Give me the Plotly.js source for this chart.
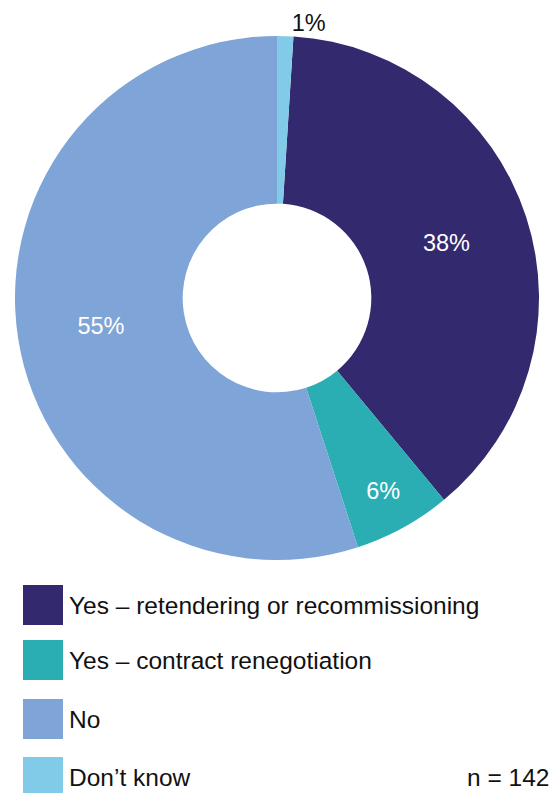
<!DOCTYPE html>
<html>
<head>
<meta charset="utf-8">
<script src="https://cdn.plot.ly/plotly-3.0.1.min.js"></script>
<style>html,body{margin:0;padding:0;background:#fff;}#chart{width:560px;height:793px;}</style>
</head>
<body>
<div id="chart"></div>
<script>
// Data
const categories = ["Yes – retendering or recommissioning", "Yes – contract renegotiation", "No", "Don’t know"];
const values = [38, 6, 55, 1];
const colors = ["#32296F", "#2AAEB4", "#7FA4D7", "#82CBE8"];
const textColors = ["#ffffff", "#ffffff", "#ffffff", "#111111"];
const textPositions = ["inside", "inside", "inside", "outside"];
const sampleNote = "n = 142";

const W = 560, H = 793;
const cx = 277, cy = 298, R = 262;
const FONT = "Liberation Sans, Arial, sans-serif";

const trace = {
  type: "pie",
  labels: categories,
  values: values,
  sort: false,
  direction: "clockwise",
  rotation: 3.6,
  hole: 0.36,
  marker: { colors: colors, line: { width: 0 } },
  texttemplate: "%{value}%",
  textposition: textPositions,
  insidetextorientation: "horizontal",
  textfont: { family: FONT, size: 23.5, color: textColors },
  outsidetextfont: { family: FONT, size: 23.5, color: "#111111" },
  hoverinfo: "none",
  showlegend: false,
  domain: { x: [(cx - R) / W, (cx + R) / W], y: [(H - cy - R) / H, (H - cy + R) / H] }
};

// Custom legend (large squares) built from categories/colors
const legendTops = [585, 640, 699, 757];
const shapes = [];
const annotations = [];
categories.forEach((c, i) => {
  const top = legendTops[i];
  shapes.push({
    type: "rect", xref: "paper", yref: "paper",
    x0: 23 / W, x1: 63 / W, y0: 1 - (top + 40) / H, y1: 1 - top / H,
    fillcolor: colors[i], line: { width: 0 }
  });
  annotations.push({
    xref: "paper", yref: "paper", x: 67 / W, y: 1 - (top + 20) / H,
    xanchor: "left", yanchor: "middle", showarrow: false, text: c,
    font: { family: FONT, size: 24.5, color: "#111111" }
  });
});
annotations.push({
  xref: "paper", yref: "paper", x: 551 / W, y: 1 - 777 / H,
  xanchor: "right", yanchor: "middle", showarrow: false, text: sampleNote,
  font: { family: FONT, size: 24.5, color: "#111111" }
});

const layout = {
  width: W, height: H,
  margin: { l: 0, r: 0, t: 0, b: 0 },
  paper_bgcolor: "#ffffff",
  plot_bgcolor: "#ffffff",
  showlegend: false,
  shapes: shapes,
  annotations: annotations
};

Plotly.newPlot("chart", [trace], layout, { staticPlot: true, displayModeBar: false });
</script>
</body>
</html>
